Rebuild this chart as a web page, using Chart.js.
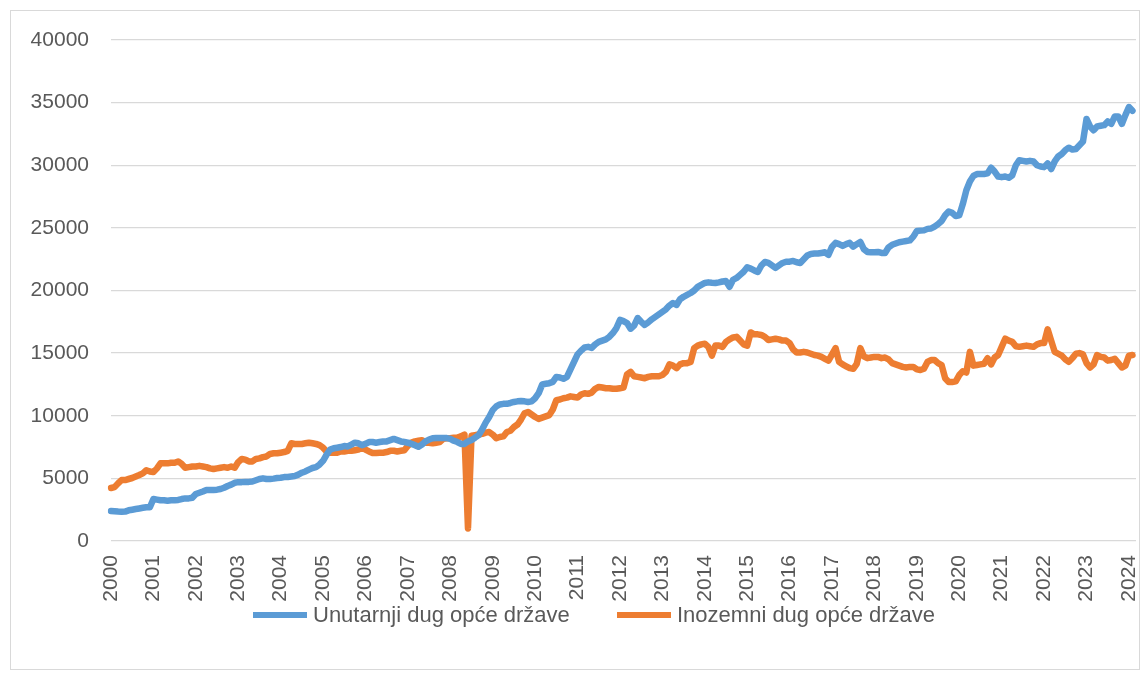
<!DOCTYPE html>
<html>
<head>
<meta charset="utf-8">
<script src="https://cdn.jsdelivr.net/npm/chart.js@4"></script>
<style>
  body { margin: 0; background: #fff; font-family: 'Liberation Sans', Arial, sans-serif; }
  #okvir { position: absolute; left: 10px; top: 10px; width: 1128px; height: 658px; border: 1px solid #d9d9d9; }
  #graf { position: absolute; left: 0; top: 0; }
  .leg { position: absolute; top: 601px; height: 28px; line-height: 28px; font-size: 22px; color: #595959; white-space: nowrap; }
  .leg span { display: inline-block; width: 54px; height: 6px; vertical-align: middle; margin-right: 6px; position: relative; top: -1px; }
</style>
</head>
<body>
<div id="okvir"></div>
<canvas id="graf" width="1147" height="677"></canvas>
<div id="legenda"></div>
<script>
var godine = ['2000','2001','2002','2003','2004','2005','2006','2007','2008','2009','2010','2011',
              '2012','2013','2014','2015','2016','2017','2018','2019','2020','2021','2022','2023','2024'];

// mjesečni podaci, siječanj 2000. - veljača 2024.
var unutarnji_dug = [
  2400, 2380, 2350, 2330, 2350, 2450, 2500, 2550, 2600, 2650, 2700, 2700,
  3350, 3300, 3250, 3250, 3220, 3250, 3250, 3280, 3350, 3400, 3400, 3450,
  3750, 3850, 3950, 4070, 4070, 4080, 4100, 4150, 4250, 4390, 4500, 4650,
  4700, 4700, 4720, 4720, 4750, 4850, 4950, 5000, 4950, 4950, 4980, 5030,
  5050, 5100, 5110, 5150, 5190, 5300, 5450, 5550, 5700, 5830, 5900, 6100,
  6400, 6900, 7300, 7400, 7450, 7500, 7580, 7550, 7700, 7850, 7800, 7650,
  7750, 7900, 7900, 7850, 7900, 7950, 7950, 8050, 8150, 8050, 7950, 7900,
  7850, 7750, 7650, 7520, 7700, 7950, 8100, 8200, 8230, 8230, 8230, 8220,
  8150, 8000, 7900, 7750, 7750, 7950, 8070, 8250, 8450, 8900, 9450, 9900,
  10450, 10750, 10900, 10950, 10950, 11020, 11100, 11150, 11180, 11150, 11100, 11150,
  11400, 11800, 12500, 12550, 12600, 12700, 13100, 13050, 12950, 13100, 13700, 14300,
  14900, 15200, 15450, 15500, 15420, 15700, 15900, 16000, 16100, 16300, 16600, 17000,
  17650, 17550, 17400, 16950, 17200, 17800, 17500, 17250, 17450, 17700, 17900, 18100,
  18300, 18500, 18800, 19000, 18850, 19300, 19500, 19650, 19800, 20000, 20290, 20450,
  20600, 20650, 20620, 20600, 20650, 20720, 20750, 20300, 20850, 21000, 21250, 21500,
  21850, 21750, 21600, 21480, 22000, 22280, 22200, 22000, 21800, 22000, 22200, 22300,
  22300, 22360, 22250, 22200, 22500, 22800, 22920, 22950, 22950, 23000, 23050, 22850,
  23500, 23800, 23700, 23560, 23700, 23800, 23500, 23700, 23880, 23300, 23080, 23050,
  23050, 23080, 23000, 23000, 23450, 23650, 23750, 23850, 23900, 23950, 24000, 24300,
  24750, 24780, 24800, 24920, 24950, 25100, 25300, 25550, 26000, 26300, 26200, 25950,
  26000, 26900, 28000, 28700, 29150, 29300, 29300, 29300, 29350, 29800, 29500, 29100,
  29050, 29100, 29000, 29200, 30000, 30400, 30350, 30300, 30350, 30300, 30000, 29900,
  29850, 30150, 29700, 30300, 30700, 30900, 31200, 31400, 31250, 31300, 31600, 31900,
  33700, 33100, 32800, 33100, 33150, 33200, 33500, 33300, 33900, 33900, 33300, 34000,
  34650, 34350
];

var inozemni_dug = [
  4230, 4300, 4600, 4870, 4870, 4950, 5030, 5150, 5270, 5400, 5650, 5550,
  5500, 5800, 6200, 6200, 6200, 6250, 6250, 6350, 6150, 5850, 5900, 5950,
  5950, 6000, 5950, 5900, 5800, 5750, 5800, 5850, 5900, 5850, 5950, 5850,
  6300, 6550, 6500, 6350, 6350, 6550, 6600, 6700, 6750, 6950, 7000, 7000,
  7050, 7100, 7200, 7800, 7750, 7750, 7750, 7800, 7850, 7800, 7750, 7650,
  7450, 7150, 7050, 7050, 7050, 7150, 7150, 7200, 7200, 7250, 7300, 7420,
  7300, 7150, 7030, 7030, 7050, 7050, 7100, 7200, 7200, 7150, 7200, 7250,
  7600, 7850, 7950, 8000, 8050, 7850, 7850, 7800, 7850, 7900, 8150, 8200,
  8200, 8250, 8250, 8350, 8500, 1000, 8400, 8450, 8500, 8550, 8650, 8700,
  8500, 8200, 8300, 8350, 8700, 8800, 9100, 9300, 9700, 10200, 10300, 10100,
  9900, 9750, 9850, 9950, 10050, 10500, 11250, 11300, 11400, 11450, 11550, 11500,
  11450, 11700, 11800, 11750, 11850, 12150, 12300, 12250, 12200, 12200, 12150, 12150,
  12200, 12250, 13300, 13500, 13150, 13100, 13050, 13000, 13100, 13150, 13150, 13150,
  13250, 13500, 14100, 14000, 13800, 14100, 14200, 14200, 14300, 15400, 15600, 15700,
  15750, 15500, 14800, 15600, 15600, 15500, 15900, 16100, 16250, 16300, 16000, 15700,
  15600, 16650, 16500, 16500, 16450, 16300, 16050, 16100, 16150, 16100, 16000, 16000,
  15800, 15300, 15050, 15050, 15100, 15050, 14950, 14850, 14800, 14700, 14550, 14400,
  14900, 15400, 14300, 14100, 13950, 13800, 13750, 14150, 15400, 14750, 14600, 14650,
  14700, 14700, 14600, 14650, 14500, 14200, 14100, 14000, 13900, 13850, 13900, 13900,
  13700, 13650, 13750, 14300, 14450, 14450, 14200, 14050, 13000, 12700, 12700, 12750,
  13250, 13550, 13450, 15100, 14000, 14050, 14100, 14150, 14600, 14100, 14650, 14850,
  15500, 16150, 16000, 15900, 15550, 15500, 15550, 15600, 15550, 15500, 15700, 15800,
  15800, 16900, 16000, 15100, 14950, 14800, 14500, 14300, 14600, 14950, 15000, 14900,
  14200, 13850, 14100, 14850, 14700, 14650, 14400, 14450, 14550, 14200, 13850, 14000,
  14800, 14850
];

var nazivi = ['Unutarnji dug opće države', 'Inozemni dug opće države'];
var boje = ['#5b9bd5', '#ed7d31'];

// kategorije: mjeseci, os ide jedan mjesec iza zadnjeg podatka
var mjeseci = [];
godine.forEach(function (g) {
  for (var m = 1; m <= 12; m++) {
    if (mjeseci.length < 291) mjeseci.push(g + '-' + (m < 10 ? '0' + m : m));
  }
});

function serija(i, podaci) {
  return {
    label: nazivi[i],
    data: podaci,
    borderColor: boje[i],
    backgroundColor: boje[i],
    borderWidth: 6.5,
    pointRadius: 0,
    tension: 0,
    borderJoinStyle: 'round',
    borderCapStyle: 'round'
  };
}

function renderiza_dug() {
  var ctx = document.getElementById('graf').getContext('2d');
  var font = "'Liberation Sans', Arial, sans-serif";

  new Chart(ctx, {
    type: 'line',
    data: {
      labels: mjeseci,
      datasets: [serija(0, unutarnji_dug), serija(1, inozemni_dug)]
    },
    options: {
      responsive: false,
      animation: false,
      layout: { padding: { left: 0, right: 11, top: 40, bottom: 74 } },
      plugins: {
        tooltip: { enabled: false },
        legend: { display: false }
      },
      scales: {
        x: {
          grid: { display: false },
          border: { display: false },
          ticks: {
            autoSkip: false,
            minRotation: 90,
            maxRotation: 90,
            padding: 6,
            color: '#595959',
            font: { family: font, size: 21 },
            callback: function (value) {
              var l = this.getLabelForValue(value);
              return l.slice(5) === '01' ? l.slice(0, 4) : '';
            }
          },
          afterFit: function (scale) {
            scale.height = 62;
            scale.paddingLeft = 0;
            scale.paddingRight = 0;
          }
        },
        y: {
          min: 0,
          max: 40000,
          border: { display: false },
          grid: { color: '#d9d9d9', lineWidth: 1.3, drawTicks: false },
          ticks: {
            stepSize: 5000,
            padding: 22,
            color: '#595959',
            font: { family: font, size: 21 },
            callback: function (v) { return String(v); }
          },
          afterFit: function (scale) { scale.width = 111; }
        }
      }
    }
  });

  // legenda ispod grafa
  var leg = document.getElementById('legenda');
  var lijevo = [253, 617];
  nazivi.forEach(function (n, i) {
    var d = document.createElement('div');
    d.className = 'leg';
    d.style.left = lijevo[i] + 'px';
    d.innerHTML = '<span style="background:' + boje[i] + '"></span>' + n;
    leg.appendChild(d);
  });
}

window.onload = function () {
  renderiza_dug();
};
</script>
</body>
</html>
